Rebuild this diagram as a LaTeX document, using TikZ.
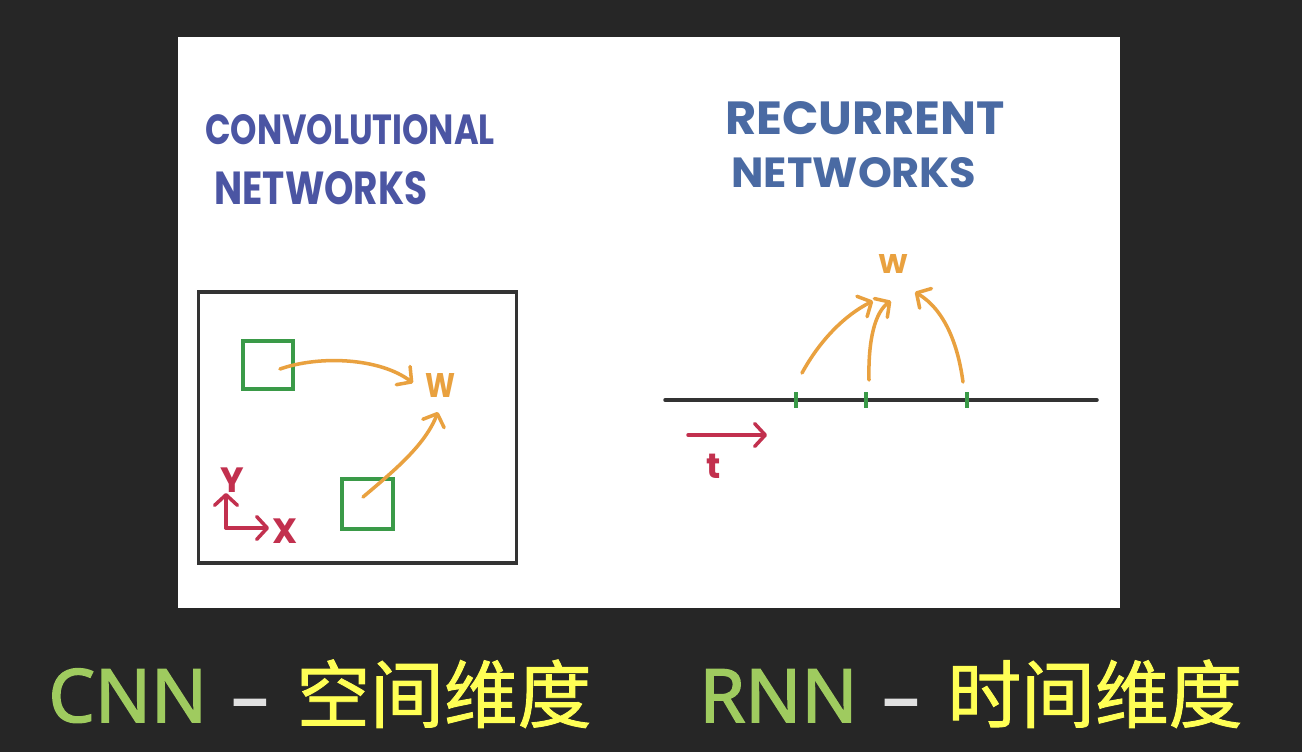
\documentclass[tikz,border=0pt]{standalone}
\usepackage{fontspec}
\usepackage{graphicx}
\setmainfont{Poppins}
\newfontfamily\notosans[FakeBold=2]{Noto Sans}
\newfontfamily\cjk[FakeBold=1.2]{Noto Sans CJK SC}
\usetikzlibrary{arrows.meta}
\definecolor{bg}{HTML}{262626}
\definecolor{cnnblue}{HTML}{4B55A3}
\definecolor{rnnblue}{HTML}{4A6AA3}
\definecolor{gr}{HTML}{3A9A48}
\definecolor{orng}{HTML}{E9A13F}
\definecolor{rd}{HTML}{C2304E}
\definecolor{boxc}{HTML}{333333}
\definecolor{lgreen}{HTML}{9FCB5F}
\definecolor{yel}{HTML}{FFFF55}
\definecolor{dashc}{HTML}{E0E0E0}
\begin{document}
\begin{tikzpicture}[x=0.02cm,y=-0.02cm,
  hand/.style={inner sep=0pt, outer sep=0pt, font=\bfseries},
  frame/.style={draw=boxc, line width=2pt, inner sep=0pt},
  sq/.style={draw=gr, line width=2pt, inner sep=0pt},
  warr/.style={draw=orng, line width=2pt, line cap=round, -{Straight Barb[round,length=6pt,width=13pt]}},
  rarr/.style={draw=rd, line width=2pt, line cap=round, -{Straight Barb[round,length=6pt,width=13pt]}},
  tickmark/.style={draw=gr, line width=2pt},
  axisline/.style={draw=boxc, line width=2pt, line cap=round},
  lbl/.style={inner sep=0pt, font=\bfseries\fontsize{20}{22}\selectfont},
  big/.style={inner sep=0pt, anchor=base west, font=\notosans\fontsize{42}{48}\selectfont},
  bigcjk/.style={inner sep=0pt, anchor=base west, font=\cjk\fontsize{42}{48}\selectfont}]
\fill[bg] (0,0) rectangle (1302,752);
\fill[white] (178,37) rectangle (1120,608);
% titles
\node[hand, text=cnnblue] (conv) at (350,130) {\resizebox{5.8cm}{0.6cm}{CONVOLUTIONAL}};
\node[hand, text=cnnblue] (netw1) at (321,188) {\resizebox{4.26cm}{0.66cm}{NETWORKS}};
\node[hand, text=rnnblue] (recur) at (865,118) {\resizebox{5.6cm}{0.66cm}{RECURRENT}};
\node[hand, text=rnnblue] (netw2) at (854,173) {\resizebox{4.9cm}{0.6cm}{NETWORKS}};
% CNN frame
\node[frame, minimum width=6.36cm, minimum height=5.42cm] (fr) at (357.5,427.5) {};
\node[sq, minimum width=1cm, minimum height=0.96cm] (sq1) at (268,365) {};
\node[sq, minimum width=1.02cm, minimum height=1cm] (sq2) at (367.5,504) {};
\node[hand, text=orng] (w1) at (440,385) {\resizebox{0.6cm}{0.48cm}{W}};
\coordinate (a1s) at (280,369);
\coordinate (a1e) at (413,383);
\coordinate (a2s) at (363,497);
\coordinate (a2e) at (438,412);
\draw[warr] (a1s) .. controls (320,355) and (380,358) .. (a1e);
\draw[warr] (a2s) .. controls (395,470) and (425,445) .. (a2e);
% axes
\coordinate (o) at (226,528);
\coordinate (oy) at (226,493);
\coordinate (ox) at (269,528);
\draw[rarr] (o) -- (oy);
\draw[rarr] (o) -- (ox);
\node[lbl, text=rd] (ylab) at (232,480) {Y};
\node[lbl, text=rd] (xlab) at (285,531) {X};
% RNN timeline
\coordinate (l0) at (665,400);
\coordinate (l1) at (1097,400);
\draw[axisline] (l0) -- (l1);
\coordinate (t1) at (796,400);
\coordinate (t2) at (866,400);
\coordinate (t3) at (967,400);
\foreach \t in {t1,t2,t3} \draw[tickmark] (\t) ++(0,-8) -- ++(0,16);
\node[hand, text=orng] (w2) at (893,264) {\resizebox{0.6cm}{0.38cm}{W}};
\coordinate (b1s) at (802,373);
\coordinate (b1e) at (873,301);
\coordinate (b2s) at (869,380);
\coordinate (b2e) at (891,301);
\coordinate (b3s) at (963,382);
\coordinate (b3e) at (915,292);
\draw[warr] (b1s) .. controls (820,340) and (845,315) .. (b1e);
\draw[warr] (b2s) .. controls (868,340) and (875,312) .. (b2e);
\draw[warr] (b3s) .. controls (958,345) and (945,310) .. (b3e);
\coordinate (r0) at (688,435);
\coordinate (r1) at (767,435);
\draw[rarr] (r0) -- (r1);
\node[lbl, text=rd] (tlab) at (714,466) {t};
% bottom captions
\node[big, text=lgreen] (cnn) at (48,722) {CNN};
\node[big, text=dashc] (d1) at (231,722) {–};
\node[bigcjk, text=yel] (cjk1) at (296,722) {空间维度};
\node[big, text=lgreen] (rnn) at (699,722) {RNN};
\node[big, text=dashc] (d2) at (882,722) {–};
\node[bigcjk, text=yel] (cjk2) at (947,722) {时间维度};
\end{tikzpicture}
\end{document}
